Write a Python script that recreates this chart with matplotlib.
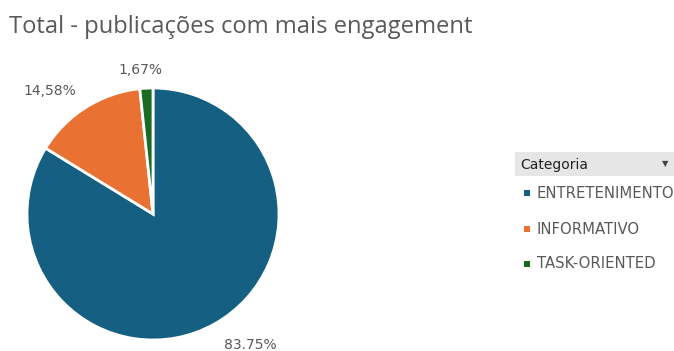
import matplotlib.pyplot as plt
from matplotlib.patches import Rectangle

plt.rcParams['font.family'] = ['Open Sans', 'DejaVu Sans']

categorias = ["ENTRETENIMENTO", "INFORMATIVO", "TASK-ORIENTED"]
valores = [83.75, 14.58, 1.67]
rotulos = ["83.75%", "14,58%", "1,67%"]
cores = ["#156082", "#E97132", "#196B24"]

# label positions (in pie radius units, relative to centre)
pos_rotulos = [(0.77, -1.04), (-0.82, 0.98), (-0.10, 1.14)]

W, H = 674, 351
fig = plt.figure(figsize=(W / 100, H / 100), dpi=100)
fig.patch.set_facecolor("white")

fig.text(9 / W, 1 - 27 / H, "Total - publicações com mais engagement",
         fontsize=17.1, color="#595959", va="center", ha="left")

# pie: centre (153, 214) px, radius 126 px
cx, cy, r = 153, 214, 126
ax = fig.add_axes([(cx - r) / W, 1 - (cy + r) / H, 2 * r / W, 2 * r / H])
ax.pie(valores, colors=cores, startangle=90, counterclock=False,
       wedgeprops=dict(edgecolor="white", linewidth=2))
ax.set_xlim(-1, 1)
ax.set_ylim(-1, 1)
ax.set_aspect("auto")
ax.axis("off")

for (x, y), txt in zip(pos_rotulos, rotulos):
    ax.text(x, y, txt, ha="center", va="center", fontsize=10,
            color="#595959", family="DejaVu Sans")

# legend header
fig.patches.append(Rectangle((515 / W, 1 - 176 / H), 160 / W, 24 / H,
                             transform=fig.transFigure, facecolor="#E6E6E6",
                             edgecolor="none"))
fig.text(520 / W, 1 - 165 / H, "Categoria", fontsize=10, color="#222222",
         va="center", ha="left", family="DejaVu Sans")
fig.text(665 / W, 1 - 164 / H, "▼", fontsize=6, color="#444444",
         va="center", ha="center", family="DejaVu Sans")

# legend entries
ys = [193, 229, 264]
for cat, cor, y in zip(categorias, cores, ys):
    fig.patches.append(Rectangle((524 / W, 1 - (y + 3) / H), 6 / W, 6 / H,
                                 transform=fig.transFigure, facecolor=cor,
                                 edgecolor="none"))
    fig.text(537 / W, 1 - y / H, cat, fontsize=10.7, color="#595959",
             va="center", ha="left", family="DejaVu Sans")

fig.savefig("out.png", dpi=100)
